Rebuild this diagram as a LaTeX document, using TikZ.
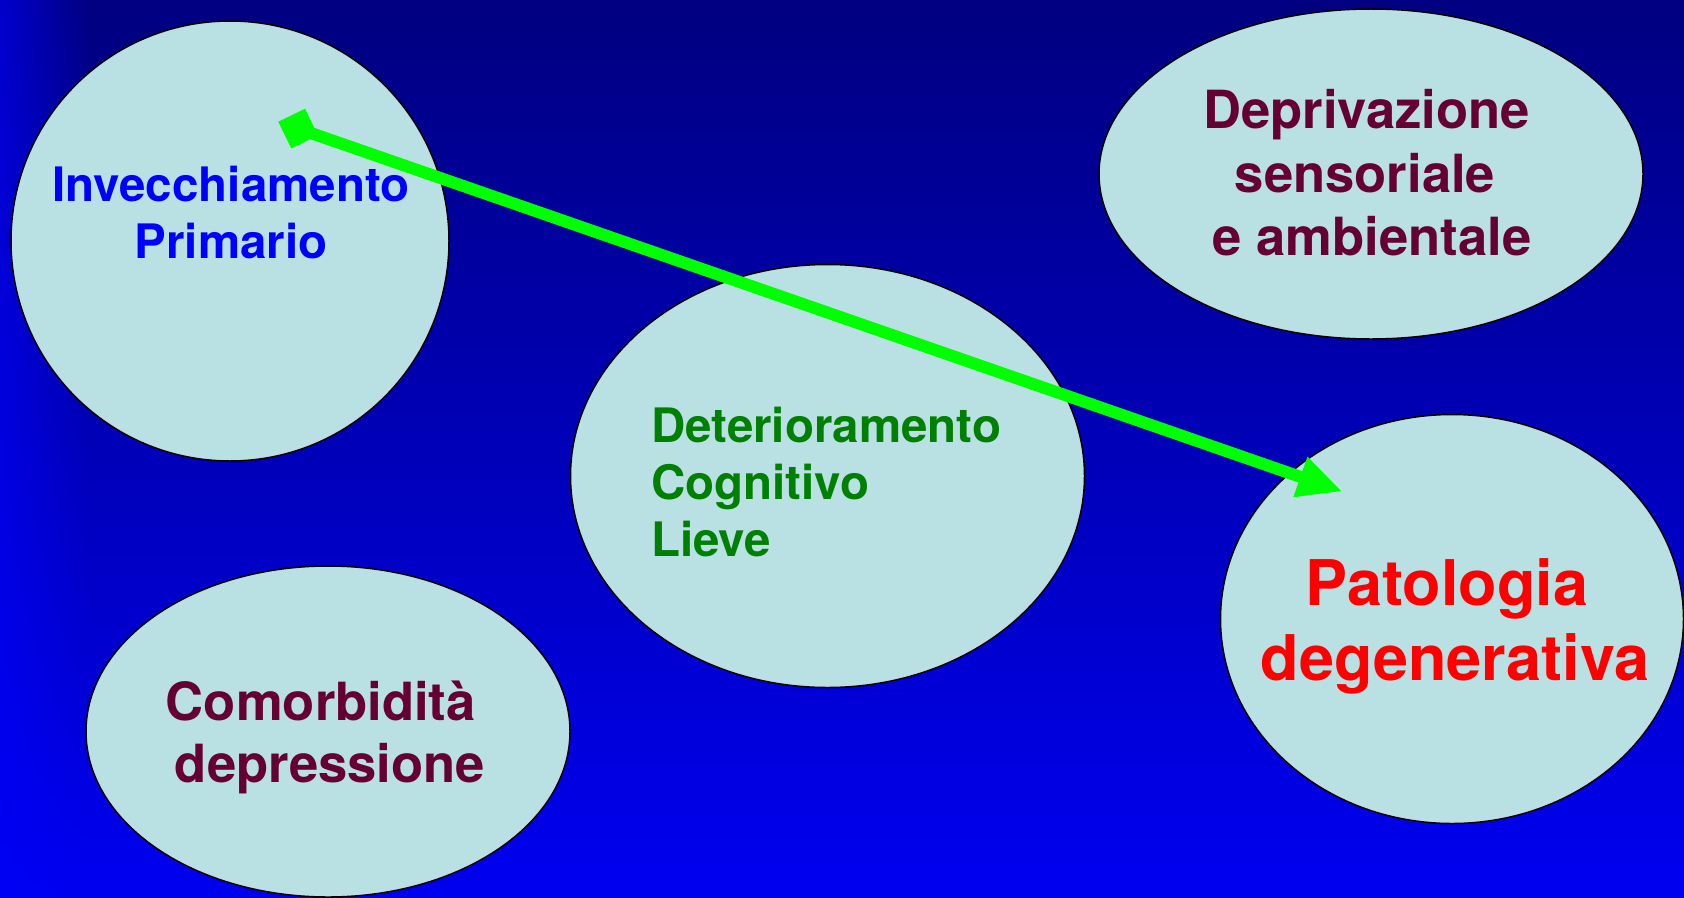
\documentclass[tikz,border=0pt]{standalone}
\usepackage{fontspec}
\setmainfont{TeX Gyre Heros}
\usetikzlibrary{shapes.geometric,arrows.meta,fadings}
\definecolor{bgtop}{RGB}{0,0,128}
\definecolor{bgbot}{RGB}{0,0,240}
\definecolor{glowtop}{RGB}{0,0,205}
\definecolor{glowbot}{RGB}{0,0,245}
\definecolor{bubblefill}{RGB}{185,224,227}
\definecolor{txtmaroon}{RGB}{102,0,51}
\definecolor{txtgreen}{RGB}{0,128,0}
\definecolor{txtblue}{RGB}{0,0,255}
\definecolor{txtred}{RGB}{255,0,0}
\definecolor{arrowgreen}{RGB}{0,255,0}
\tikzset{
  bubble/.style={ellipse, draw=black, line width=1.5bp, fill=bubblefill, inner sep=0pt, outer sep=0pt},
  lbl/.style={inner sep=0pt, outer sep=0pt, anchor=base},
  fsmall/.style={font=\fontsize{47.5bp}{57bp}\selectfont\bfseries},
  fmid/.style={font=\fontsize{52.6bp}{63bp}\selectfont\bfseries},
  fbig/.style={font=\fontsize{63bp}{75bp}\selectfont\bfseries},
  bigarrow/.style={line width=12bp, draw=arrowgreen, fill=arrowgreen,
    {Diamond[length=42bp,width=42bp,line width=0pt]}-{Triangle[length=43bp,width=43bp,line width=0pt]}},
}
\begin{document}
\begin{tikzpicture}[x=1bp,y=-1bp]
  \useasboundingbox (0,0) rectangle (1684,897);
  % background
  \shade[top color=bgtop, bottom color=bgbot] (0,0) rectangle (1684,897);
  \shade[top color=glowtop, bottom color=glowbot, path fading=east] (0,0) rectangle (90,897);
  % bubbles
  \node[bubble, minimum width=438bp, minimum height=440bp] (inv) at (230,241) {};
  \node[bubble, minimum width=544bp, minimum height=330bp] (dep) at (1371,174) {};
  \node[bubble, minimum width=514bp, minimum height=423bp] (det) at (827.5,476) {};
  \node[bubble, minimum width=463bp, minimum height=409bp] (pat) at (1452,619) {};
  \node[bubble, minimum width=484bp, minimum height=331bp] (com) at (328,731.5) {};
  % texts
  \node[lbl, fsmall, text=txtblue] (inv1) at (231,201.7) {Invecchiamento};
  \node[lbl, fsmall, text=txtblue] (inv2) at (231,258) {Primario};
  \node[lbl, fmid, text=txtmaroon] (dep1) at (1366.5,128) {Deprivazione};
  \node[lbl, fmid, text=txtmaroon] (dep2) at (1365,192) {sensoriale};
  \node[lbl, fmid, text=txtmaroon] (dep3) at (1372,255) {e ambientale};
  \node[lbl, fsmall, text=txtgreen, anchor=base west] (det1) at (651,442) {Deterioramento};
  \node[lbl, fsmall, text=txtgreen, anchor=base west] (det2) at (651,499) {Cognitivo};
  \node[lbl, fsmall, text=txtgreen, anchor=base west] (det3) at (651,556) {Lieve};
  \node[lbl, fbig, text=txtred] (pat1) at (1447,605) {Patologia};
  \node[lbl, fbig, text=txtred] (pat2) at (1455,680) {degenerativa};
  \node[lbl, fmid, text=txtmaroon] (com1) at (321,720) {Comorbidità};
  \node[lbl, fmid, text=txtmaroon] (com2) at (330,782) {depressione};
  % arrow
  \coordinate (astart) at (278.3,121.7);
  \coordinate (aend) at (1341,491);
  \draw[bigarrow] (astart) -- (aend);
\end{tikzpicture}
\end{document}
